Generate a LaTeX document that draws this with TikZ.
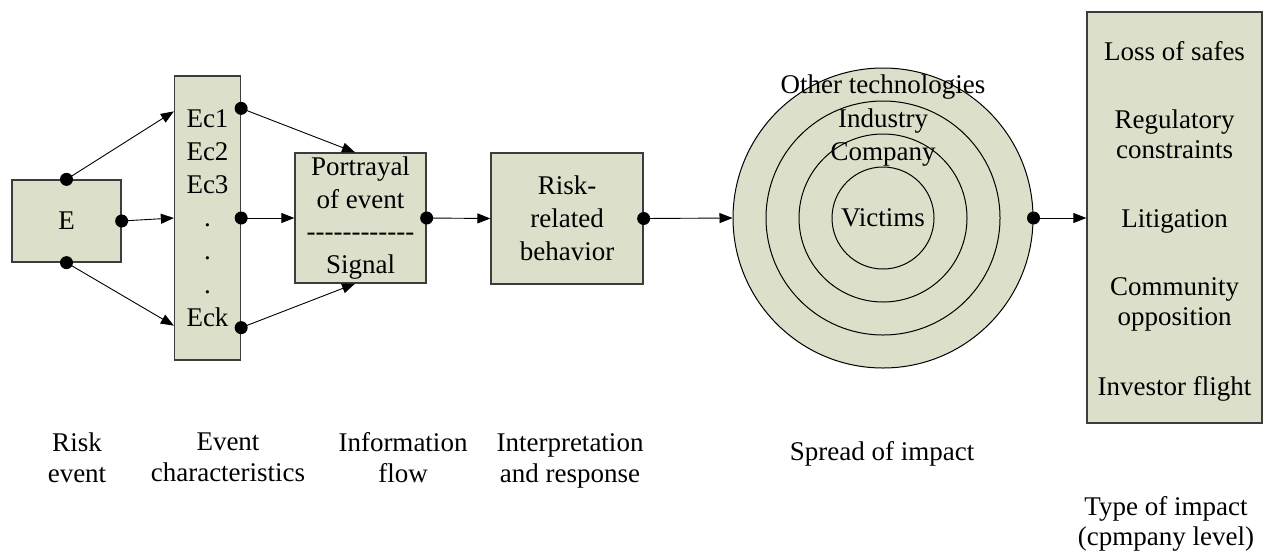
\documentclass[tikz,border=0pt]{standalone}
\usepackage{fontspec}
\setmainfont{Liberation Serif}
\usetikzlibrary{arrows.meta,calc}
\definecolor{boxfill}{RGB}{220,224,203}
\definecolor{boxline}{RGB}{60,60,60}
\newcommand\sigdashes{-\kern0pt-\kern0pt-\kern0pt-\kern0pt-\kern0pt-\kern0pt-\kern0pt-\kern0pt-\kern0pt-\kern0pt-\kern0pt-}
\begin{document}
\begin{tikzpicture}[x=1pt,y=-1pt,
  every node/.style={font=\fontsize{27}{31}\selectfont, inner sep=0pt},
  boxnode/.style={draw=boxline, line width=1.3pt, fill=boxfill, rectangle, align=center},
  ring/.style={draw=black, line width=1pt, fill=boxfill, circle},
  conn/.style={draw=black, line width=0.9pt, -{Triangle[length=13pt,width=10pt]}},
  lbl/.style={align=center}]
\fill[white] (0,0) rectangle (1268,555);
\useasboundingbox (0,0) rectangle (1268,555);

% boxes
\node[boxnode, minimum width=109pt, minimum height=82pt] (E) at (66.5,221) {E};
\node[boxnode, minimum width=66pt, minimum height=284pt, font=\fontsize{27}{33.2}\selectfont] (Ec) at (207.5,218) {Ec1\\Ec2\\Ec3\\.\\.\\.\\Eck};
\node[boxnode, minimum width=131pt, minimum height=130pt, font=\fontsize{27}{32.7}\selectfont] (P) at (360.5,218) {Portrayal\\of event\\\sigdashes\\Signal};
\node[boxnode, minimum width=152pt, minimum height=131pt, font=\fontsize{27}{33}\selectfont] (R) at (567,218.5) {Risk-\\related\\behavior};

% rings
\node[ring, minimum size=300pt] (c4) at (883,218) {};
\node[ring, minimum size=234pt] (c3) at (883,218) {};
\node[ring, minimum size=168pt] (c2) at (883,218) {};
\node[ring, minimum size=102pt] (c1) at (883,218) {Victims};
\node[anchor=base] (oth) at (883,93) {Other technologies};
\node[anchor=base] (ind) at (883,127) {Industry};
\node[anchor=base] (com) at (883,160) {Company};

% impact box
\node[boxnode, minimum width=175pt, minimum height=411pt] (T) at (1174.5,217.5) {};
\node[anchor=base] (t1) at (1174.5,60.7) {Loss of safes};
\node[lbl, font=\fontsize{27}{30}\selectfont] (t2) at (1174.5,134) {Regulatory\\constraints};
\node[anchor=base] (t3) at (1174.5,227) {Litigation};
\node[lbl, font=\fontsize{27}{30}\selectfont] (t4) at (1174.5,304) {Community\\opposition};
\node[anchor=base] (t5) at (1174.5,395) {Investor flight};

% coordinates
\coordinate (ec1) at ($(Ec.north east)+(0,33)$);
\coordinate (ec2) at (Ec.east);
\coordinate (ec3) at ($(Ec.south east)+(0,-33)$);
\coordinate (ecin1) at ($(Ec.north west)+(0,36)$);
\coordinate (ecin3) at ($(Ec.south west)+(0,-35)$);
\coordinate (pin1) at ($(P.north)+(-5.5,0)$);
\coordinate (pin3) at ($(P.south)+(-5.5,0)$);

% connectors
\draw[conn] (E.north) -- (ecin1);
\draw[conn] (E.east) -- (Ec.west);
\draw[conn] (E.south) -- (ecin3);
\draw[conn] (ec1) -- (pin1);
\draw[conn] (ec2) -- (P.west);
\draw[conn] (ec3) -- (pin3);
\draw[conn] (P.east) -- (R.west);
\draw[conn] (R.east) -- (c4.west);
\draw[conn] (c4.east) -- (T.west |- c4.east);

% dots
\foreach \p in {E.north,E.south,E.east,ec1,ec2,ec3,P.east,R.east,c4.east}
  \fill (\p) circle (6.5);

% bottom labels
\node[lbl] (l1) at (77,457.5) {Risk\\event};
\node[lbl] (l2) at (228,457.5) {Event\\characteristics};
\node[lbl] (l3) at (403,457.5) {Information\\flow};
\node[lbl] (l4) at (570,460.5) {Interpretation\\and response};
\node[anchor=base] (l5) at (882,460) {Spread of impact};
\node[lbl, font=\fontsize{27}{30}\selectfont] (l6) at (1166,523.7) {Type of impact\\(cpmpany level)};
\end{tikzpicture}
\end{document}
